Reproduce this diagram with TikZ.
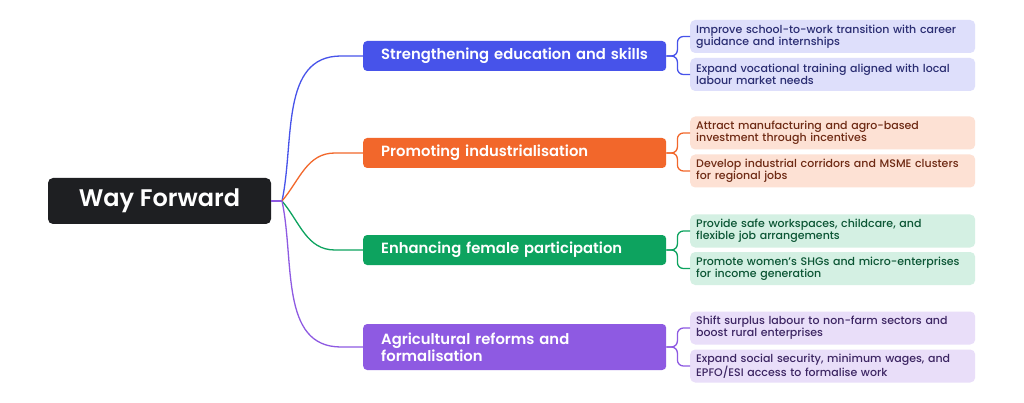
\documentclass[tikz,border=0pt]{standalone}
\usepackage{fontspec}
\setmainfont{Poppins Medium}[BoldFont=Poppins SemiBold]
\usetikzlibrary{positioning}
\definecolor{rootc}{HTML}{1E1F22}
\definecolor{educ}{HTML}{4753EA}
\definecolor{indc}{HTML}{F2672B}
\definecolor{femc}{HTML}{0DA35F}
\definecolor{agrc}{HTML}{8E5AE2}
\definecolor{eduf}{HTML}{DEDFFB}
\definecolor{indf}{HTML}{FDE1D4}
\definecolor{femf}{HTML}{D4F0E3}
\definecolor{agrf}{HTML}{E9DEF9}
\definecolor{edut}{HTML}{2A2D72}
\definecolor{indt}{HTML}{6E2A14}
\definecolor{femt}{HTML}{0B5534}
\definecolor{agrt}{HTML}{3D2663}
\tikzset{
  branchbox/.style={rounded corners=4pt, anchor=west, minimum width=303pt, inner xsep=18pt,
    text width=267pt, align=left, text=white, font=\fontsize{14.8}{15.5}\selectfont\bfseries},
  leafbox/.style={rounded corners=5pt, anchor=west, minimum width=285pt, minimum height=33pt,
    inner xsep=6pt, text width=273pt, align=left, font=\fontsize{11}{12}\selectfont},
  limb/.style={line width=1.3pt},
  twig/.style={line width=1.3pt, rounded corners=6pt}
}
\begin{document}
\begin{tikzpicture}[x=1pt,y=-1pt]
        \useasboundingbox[fill=white] (0,0) rectangle (1024,403);
        \node[fill=rootc, rounded corners=5pt, minimum width=223pt, minimum height=46pt, text=white,
              font=\fontsize{24}{26}\selectfont\bfseries] (root) at (159.5,201) {Way Forward};
        \coordinate (jn) at (282,201);

        \node[branchbox, fill=educ, minimum height=30pt] (edu) at (363, 56) {Strengthening education and skills};
        \node[branchbox, fill=indc, minimum height=30pt] (ind) at (363,153) {Promoting industrialisation};
        \node[branchbox, fill=femc, minimum height=30pt] (fem) at (363,250) {Enhancing female participation};
        \node[branchbox, fill=agrc, minimum height=46pt] (agr) at (363,347) {Agricultural reforms and\\formalisation};

        \draw[limb,educ] (jn) to[out=78,in=180] ([xshift=-22pt]edu.west) -- (edu.west);
        \draw[limb,indc] (jn) to[out=50,in=180] ([xshift=-28pt]ind.west) -- (ind.west);
        \draw[limb,femc] (jn) to[out=-50,in=180] ([xshift=-28pt]fem.west) -- (fem.west);
        \draw[limb,agrc] (jn) to[out=-78,in=180] ([xshift=-22pt]agr.west) -- (agr.west);
        \draw[limb,agrc] (root.east) -- (jn);

        \node[leafbox, fill=eduf, text=edut] (edua) at (690, 36.5) {Improve school-to-work transition with career\\guidance and internships};
        \node[leafbox, fill=eduf, text=edut] (edub) at (690, 74.5) {Expand vocational training aligned with local\\labour market needs};
        \node[leafbox, fill=indf, text=indt] (inda) at (690,133) {Attract manufacturing and agro-based\\investment through incentives};
        \node[leafbox, fill=indf, text=indt] (indb) at (690,171) {Develop industrial corridors and MSME clusters\\for regional jobs};
        \node[leafbox, fill=femf, text=femt] (fema) at (690,231) {Provide safe workspaces, childcare, and\\flexible job arrangements};
        \node[leafbox, fill=femf, text=femt] (femb) at (690,268.5) {Promote women's SHGs and micro-enterprises\\for income generation};
        \node[leafbox, fill=agrf, text=agrt] (agra) at (690,328) {Shift surplus labour to non-farm sectors and\\boost rural enterprises};
        \node[leafbox, fill=agrf, text=agrt] (agrb) at (690,366) {Expand social security, minimum wages, and\\EPFO/ESI access to formalise work};

        \draw[twig,educ] (edu.east) -- ++(11,0) |- (edua.west);
        \draw[twig,educ] (edu.east) -- ++(11,0) |- (edub.west);
        \draw[twig,indc] (ind.east) -- ++(11,0) |- (inda.west);
        \draw[twig,indc] (ind.east) -- ++(11,0) |- (indb.west);
        \draw[twig,femc] (fem.east) -- ++(11,0) |- (fema.west);
        \draw[twig,femc] (fem.east) -- ++(11,0) |- (femb.west);
        \draw[twig,agrc] (agr.east) -- ++(11,0) |- (agra.west);
        \draw[twig,agrc] (agr.east) -- ++(11,0) |- (agrb.west);
\end{tikzpicture}
\end{document}
